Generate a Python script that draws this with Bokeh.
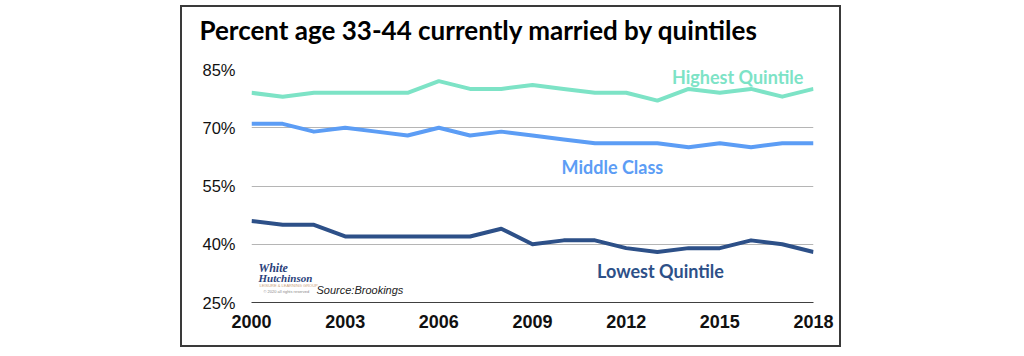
from bokeh.plotting import figure
from bokeh.models import Range1d, FixedTicker, Label, Spacer, Title
from bokeh.layouts import row, column
from bokeh.embed import file_html
from bokeh.resources import INLINE

# ---- data ----
years = list(range(2000, 2019))
highest = [79, 78, 79, 79, 79, 79, 82, 80, 80, 81, 80, 79, 79, 77, 80, 79, 80, 78, 80]
middle = [71, 71, 69, 70, 69, 68, 70, 68, 69, 68, 67, 66, 66, 66, 65, 66, 65, 66, 66]
lowest = [46, 45, 45, 42, 42, 42, 42, 42, 44, 40, 41, 41, 39, 38, 39, 39, 41, 40, 38]
series_names = ["Highest Quintile", "Middle Class", "Lowest Quintile"]
x_ticks = [2000, 2003, 2006, 2009, 2012, 2015, 2018]
x_tick_labels = ["2000", "2003", "2006", "2009", "2012", "2015", "2018"]
y_ticks = [25, 40, 55, 70, 85]
y_tick_labels = ["25%", "40%", "55%", "70%", "85%"]
title_text = "Percent age 33-44 currently married by quintiles"
source_text = "Source:Brookings"

colors = ["#7DE3C6", "#5C9DF5", "#2D5088"]

p = figure(width=657, height=338, output_backend="svg", toolbar_location=None,
           x_range=Range1d(2000, 2018), y_range=Range1d(25, 85),
           min_border_left=69, min_border_right=26, min_border_top=62,
           min_border_bottom=43)
p.outline_line_color = None
p.background_fill_color = "white"
p.border_fill_color = "white"
p.styles = {"outline": "2px solid #3A3A3A"}

# title (outermost) + an invisible spacer title between it and the frame
p.title.text = title_text
p.title.text_font = "Lato"
p.title.text_font_style = "bold"
p.title.text_font_size = "26px"
p.title.text_color = "#000000"
p.title.align = "left"
p.title.vertical_align = "middle"
p.title.offset = -52
p.title.standoff = 0
p.add_layout(Title(text=" ", text_font_size="1px", standoff=20), "above")

# axes
p.xaxis.ticker = FixedTicker(ticks=x_ticks)
p.xaxis.major_label_overrides = dict(zip(x_ticks, x_tick_labels))
p.xaxis.major_label_text_font = "Liberation Sans"
p.xaxis.major_label_text_font_style = "bold"
p.xaxis.major_label_text_font_size = "18px"
p.xaxis.major_label_text_color = "#111111"
p.xaxis.axis_line_color = "#404040"
p.xaxis.axis_line_width = 1
p.xaxis.major_tick_line_color = None
p.xaxis.major_tick_out = 0
p.xaxis.major_tick_in = 0
p.xaxis.minor_tick_line_color = None
p.xaxis.major_label_standoff = 12

p.yaxis.ticker = FixedTicker(ticks=y_ticks)
p.yaxis.major_label_overrides = dict(zip(y_ticks, y_tick_labels))
p.yaxis.major_label_text_font = "Liberation Sans"
p.yaxis.major_label_text_font_size = "16.5px"
p.yaxis.major_label_text_color = "#111111"
p.yaxis.axis_line_color = None
p.yaxis.major_tick_line_color = None
p.yaxis.major_tick_out = 0
p.yaxis.major_tick_in = 0
p.yaxis.minor_tick_line_color = None
p.yaxis.major_label_standoff = 16

p.xgrid.grid_line_color = None
p.ygrid.ticker = FixedTicker(ticks=y_ticks[1:])
p.ygrid.grid_line_color = "#B5B5B5"
p.ygrid.grid_line_width = 1

# lines
for vals, c in zip([highest, middle, lowest], colors):
    p.line(years, vals, line_color=c, line_width=4, line_join="round")

# series labels
label_pos = [(2015.57, 83.0), (2011.56, 59.8), (2013.1, 33.0)]
for name, (lx, ly), c in zip(series_names, label_pos, colors):
    p.add_layout(Label(x=lx, y=ly, text=name, text_color=c, text_font="Lato",
                       text_font_style="bold", text_font_size="18px",
                       text_align="center", text_baseline="middle"))

# source + logo
p.add_layout(Label(x=65, y=13, x_units="screen", y_units="screen", text=source_text,
                   text_font="Liberation Sans", text_font_style="italic",
                   text_font_size="11px", text_color="#222222", text_baseline="middle"))
p.add_layout(Label(x=7, y=35, x_units="screen", y_units="screen", text="White",
                   text_font="Liberation Serif", text_font_style="bold italic",
                   text_font_size="12px", text_color="#2B3F7A", text_baseline="middle"))
p.add_layout(Label(x=7, y=25, x_units="screen", y_units="screen", text="Hutchinson",
                   text_font="Liberation Serif", text_font_style="bold italic",
                   text_font_size="11px", text_color="#2B3F7A", text_baseline="middle"))
p.add_layout(Label(x=8, y=17, x_units="screen", y_units="screen", text="LEISURE & LEARNING GROUP",
                   text_font="Liberation Sans", text_font_size="4px",
                   text_color="#C9A277", text_baseline="middle"))
p.add_layout(Label(x=12, y=11, x_units="screen", y_units="screen", text="© 2020 all rights reserved",
                   text_font="Liberation Sans", text_font_size="4px",
                   text_color="#888888", text_baseline="middle"))

layout = column(Spacer(width=10, height=7), row(Spacer(width=182, height=10), p))

open("out.html", "w").write(file_html(layout, INLINE))
